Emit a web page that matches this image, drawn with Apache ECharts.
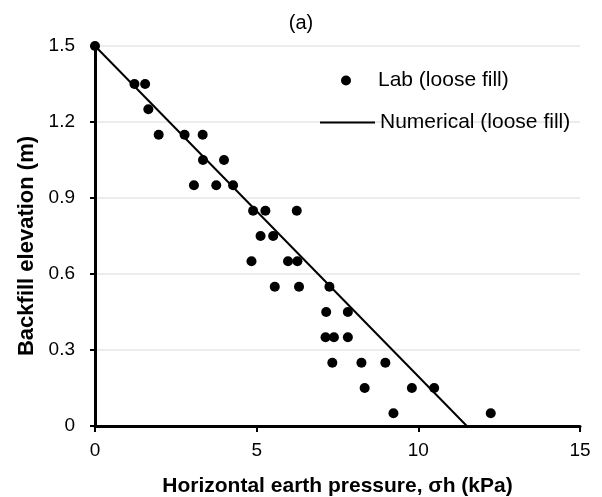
<!DOCTYPE html>
<html>
<head>
<meta charset="utf-8">
<script src="https://cdn.jsdelivr.net/npm/echarts@6/dist/echarts.min.js"></script>
<style>
  html, body { margin: 0; padding: 0; background: #fff; }
  #chart { width: 602px; height: 497px; }
</style>
</head>
<body>
<div id="chart"></div>
<script>
// lab measurements (loose fill)
const labX = [0, 1.22, 1.55, 1.65, 1.97, 2.77, 3.33, 3.34, 3.99, 3.06, 3.75, 4.27,
  4.89, 5.27, 6.24, 5.12, 5.51, 4.84, 5.97, 6.26, 5.56, 6.31, 7.25, 7.15, 7.82,
  7.13, 7.39, 7.82, 7.34, 8.24, 8.98, 8.34, 9.80, 10.49, 9.23, 12.24];
const labY = [1.5, 1.35, 1.35, 1.25, 1.15, 1.15, 1.15, 1.05, 1.05, 0.95, 0.95, 0.95,
  0.85, 0.85, 0.85, 0.75, 0.75, 0.65, 0.65, 0.65, 0.55, 0.55, 0.55, 0.45, 0.45,
  0.35, 0.35, 0.35, 0.25, 0.25, 0.25, 0.15, 0.15, 0.15, 0.05, 0.05];

// numerical prediction (loose fill)
const numX = [0, 11.5];
const numY = [1.5, 0];

const xTicks = [0, 5, 10, 15];
const yTicks = [0, 0.3, 0.6, 0.9, 1.2, 1.5];

const FONT = '"Liberation Sans", Arial, sans-serif';

const chart = echarts.init(document.getElementById('chart'));

const options = {
  animation: false,
  backgroundColor: '#fff',
  title: {
    text: '(a)',
    left: 'center',
    top: 8,
    textStyle: { fontFamily: FONT, fontSize: 20, fontWeight: 'normal', color: '#000' },
  },
  legend: [
    {
      data: ['Lab (loose fill)'],
      icon: 'circle',
      itemWidth: 10,
      itemHeight: 10,
      left: 336,
      top: 65,
      textStyle: { fontFamily: FONT, fontSize: 21, color: '#000', padding: [0, 0, 0, 22] },
    },
    {
      data: ['Numerical (loose fill)'],
      icon: 'rect',
      itemWidth: 55,
      itemHeight: 2,
      left: 315,
      top: 107,
      textStyle: { fontFamily: FONT, fontSize: 21, color: '#000' },
    },
  ],
  grid: {
    left: 95,
    right: 22,
    top: 46,
    bottom: 71,
    outerBoundsMode: 'none',
  },
  xAxis: {
    type: 'value',
    min: xTicks[0],
    max: xTicks[xTicks.length - 1],
    interval: 5,
    name: 'Horizontal earth pressure, σh (kPa)',
    nameLocation: 'middle',
    nameGap: 50,
    nameTextStyle: { fontFamily: FONT, fontSize: 21, fontWeight: 'bold', color: '#000' },
    axisLine: { show: true, lineStyle: { color: '#000', width: 3 } },
    axisTick: { show: true, length: 6, lineStyle: { color: '#000', width: 2 } },
    axisLabel: { fontFamily: FONT, fontSize: 19, color: '#000', margin: 15 },
    splitLine: { show: false },
  },
  yAxis: {
    type: 'value',
    min: yTicks[0],
    max: yTicks[yTicks.length - 1],
    interval: 0.3,
    name: 'Backfill elevation (m)',
    nameLocation: 'middle',
    nameGap: 55,
    nameTextStyle: {
      fontFamily: FONT, fontSize: 22, fontWeight: 'bold', color: '#000',
      padding: [0, 20, 0, 0],
    },
    axisLine: { show: true, lineStyle: { color: '#000', width: 3 } },
    axisTick: { show: true, length: 5, lineStyle: { color: '#000', width: 2 } },
    axisLabel: {
      fontFamily: FONT, fontSize: 19, color: '#000', margin: 20,
      formatter: v => (v === 0 ? '0' : v.toFixed(1)),
    },
    splitLine: { show: true, lineStyle: { color: '#e6e6e6', width: 1.5 } },
  },
  series: [
    {
      name: 'Lab (loose fill)',
      type: 'scatter',
      symbol: 'circle',
      symbolSize: 10,
      itemStyle: { color: '#000', opacity: 1 },
      data: labX.map((x, i) => [x, labY[i]]),
      z: 3,
    },
    {
      name: 'Numerical (loose fill)',
      type: 'line',
      symbol: 'none',
      lineStyle: { color: '#000', width: 2 },
      itemStyle: { color: '#000' },
      data: numX.map((x, i) => [x, numY[i]]),
      z: 2,
    },
  ],
};

chart.setOption(options);
</script>
</body>
</html>
